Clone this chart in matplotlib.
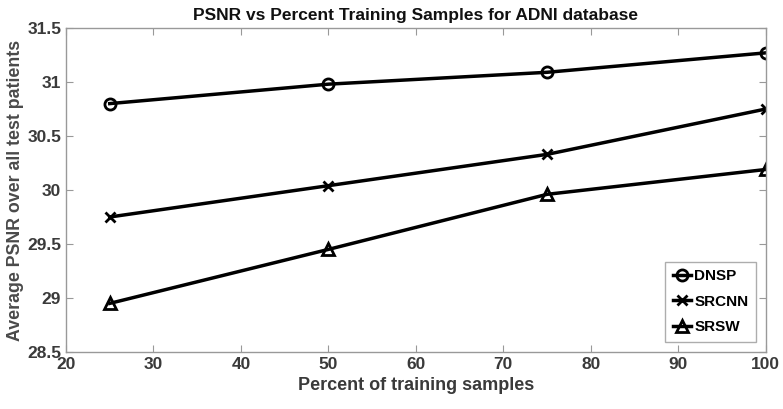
import matplotlib
matplotlib.use("Agg")
import matplotlib.pyplot as plt

x = [25, 50, 75, 100]
dnsp = [30.80, 30.98, 31.09, 31.27]
srcnn = [29.75, 30.04, 30.33, 30.75]
srsw = [28.95, 29.45, 29.96, 30.19]
labels = ["DNSP", "SRCNN", "SRSW"]
xticks = [20, 30, 40, 50, 60, 70, 80, 90, 100]
yticks = [28.5, 29, 29.5, 30, 30.5, 31, 31.5]

plt.rcParams['font.family'] = ['Liberation Sans', 'DejaVu Sans']

fig = plt.figure(figsize=(7.83, 4.09), dpi=100)
ax = fig.add_axes([0.0843, 0.1394, 0.8937, 0.7921])

ax.plot(x, dnsp, color='black', lw=2.5, marker='o', ms=8, mfc='none', mew=2, label=labels[0])
ax.plot(x, srcnn, color='black', lw=2.5, marker='x', ms=7, mew=2, label=labels[1])
ax.plot(x, srsw, color='black', lw=2.5, marker='^', ms=8, mfc='none', mew=2, label=labels[2])

ax.set_xlim(20, 100)
ax.set_ylim(28.5, 31.5)
ax.set_xticks(xticks)
ax.set_xticklabels([str(t) for t in xticks])
ax.set_yticks(yticks)
ax.set_yticklabels([f"{t:g}" for t in yticks])

grey = '#3a3a3a'
for s in ax.spines.values():
    s.set_color('#999999')
    s.set_linewidth(1.0)
ax.tick_params(direction='in', top=True, right=True, length=5, color='#999999',
               labelsize=12.5, labelcolor=grey)
for lab in ax.get_xticklabels() + ax.get_yticklabels():
    lab.set_fontweight('bold')

ax.set_xlabel('Percent of training samples', fontsize=13, fontweight='bold', color=grey)
ax.set_ylabel('Average PSNR over all test patients', fontsize=12.8, fontweight='bold', color='#4a4a4a',
              labelpad=2)
ax.set_title('PSNR vs Percent Training Samples for ADNI database', fontsize=12.5,
             fontweight='bold', color='#111111', pad=6)

leg = ax.legend(loc='lower right', bbox_to_anchor=(0.986, 0.031), borderaxespad=0,
                prop={'weight': 'bold', 'size': 11},
                frameon=True, fancybox=False, handlelength=1.2, handletextpad=0.2,
                borderpad=0.5, labelspacing=0.75)
leg.get_frame().set_edgecolor('#999999')
leg.get_frame().set_linewidth(1.0)

fig.savefig('out.png', dpi=100)
